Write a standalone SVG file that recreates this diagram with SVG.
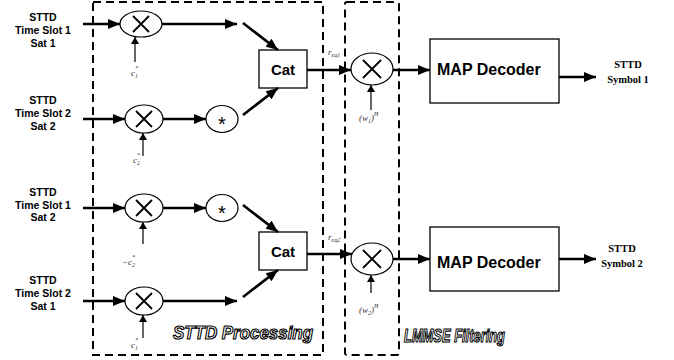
<svg xmlns="http://www.w3.org/2000/svg" width="674" height="360" viewBox="0 0 674 360">
<style>
.in{font-family:"Liberation Sans",Arial,sans-serif;font-weight:bold;font-size:10.5px;text-anchor:middle}
.out{font-family:"Liberation Serif","Times New Roman",serif;font-weight:bold;font-size:10.5px;text-anchor:middle}
.box{fill:#fff;stroke:#000;stroke-width:1.3}
.node{fill:#fff;stroke:#000;stroke-width:1.2}
.x{stroke:#000;stroke-width:1.8;fill:none}
.big{font-family:"Liberation Sans",Arial,sans-serif;font-weight:bold;font-size:15px}
.map{font-family:"Liberation Sans",Arial,sans-serif;font-weight:bold;font-size:16px}
.lbl{font-family:"Liberation Serif","Times New Roman",serif;font-style:italic;font-size:9px;fill:#333}
.sub{font-size:6px}
.star{font-family:"Liberation Sans",Arial,sans-serif;font-size:20px;text-anchor:middle;fill:#000}
.w{stroke:#000;stroke-width:2.6;fill:none}
.t{stroke:#000;stroke-width:1.2;fill:none}
.dash{fill:none;stroke:#000;stroke-width:2;stroke-dasharray:8 5}
.title{font-family:"Liberation Sans",Arial,sans-serif;font-weight:bold;font-style:italic;fill:#fff;stroke:#000;stroke-width:1.2}
</style>
<defs>
<marker id="ah" markerUnits="userSpaceOnUse" markerWidth="12" markerHeight="10" refX="12" refY="5" orient="auto"><path d="M0,0 L12,5 L0,10 Z" fill="#000"/></marker>
<marker id="as" markerUnits="userSpaceOnUse" markerWidth="7" markerHeight="8" refX="7" refY="4" orient="auto"><path d="M0,0 L7,4 L0,8 Z" fill="#000"/></marker>
</defs>
<rect width="674" height="360" fill="#fff"/>

<g id="sttd-processing-box">
<rect class="dash" x="93" y="2" width="230" height="353"/>
<text class="title" x="173" y="339" font-size="19" textLength="140" lengthAdjust="spacingAndGlyphs">STTD Processing</text>
</g>
<g id="lmmse-box">
<rect class="dash" x="345" y="2" width="54" height="353" rx="2"/>
<text class="title" x="404" y="342" font-size="18" textLength="101" lengthAdjust="spacingAndGlyphs">LMMSE Filtering</text>
</g>

<g id="input1"><text class="in" x="43" y="21">STTD</text><text class="in" x="43" y="34">Time Slot 1</text><text class="in" x="43" y="47">Sat 1</text></g>
<g id="input2"><text class="in" x="43" y="104">STTD</text><text class="in" x="43" y="117">Time Slot 2</text><text class="in" x="43" y="130">Sat 2</text></g>
<g id="input3"><text class="in" x="43" y="196">STTD</text><text class="in" x="43" y="209">Time Slot 1</text><text class="in" x="43" y="221">Sat 2</text></g>
<g id="input4"><text class="in" x="43" y="284">STTD</text><text class="in" x="43" y="297">Time Slot 2</text><text class="in" x="43" y="310">Sat 1</text></g>

<g id="mult1"><ellipse class="node" cx="141" cy="24" rx="21" ry="13"/><path class="x" d="M133,16 L149,32 M149,16 L133,32"/></g>
<g id="mult2"><ellipse class="node" cx="144" cy="119" rx="19" ry="14"/><path class="x" d="M136,111 L152,127 M152,111 L136,127"/></g>
<g id="mult3"><ellipse class="node" cx="144" cy="208" rx="19" ry="14"/><path class="x" d="M136,200 L152,216 M152,200 L136,216"/></g>
<g id="mult4"><ellipse class="node" cx="144" cy="301" rx="19" ry="14"/><path class="x" d="M136,293 L152,309 M152,293 L136,309"/></g>

<g id="conj1"><ellipse class="node" cx="222" cy="119" rx="16" ry="13.5"/><text class="star" x="222" y="131">*</text></g>
<g id="conj2"><ellipse class="node" cx="222" cy="208" rx="16" ry="13.5"/><text class="star" x="222" y="220">*</text></g>

<g id="cat1"><rect class="box" x="259" y="50" width="48" height="38"/><text class="big" x="283" y="75" text-anchor="middle">Cat</text></g>
<g id="cat2"><rect class="box" x="259" y="232" width="48" height="38"/><text class="big" x="283" y="257" text-anchor="middle">Cat</text></g>

<g id="mult5"><ellipse class="node" cx="372" cy="69" rx="21" ry="16"/><path class="x" d="M363,60 L381,78 M381,60 L363,78"/></g>
<g id="mult6"><ellipse class="node" cx="372" cy="259" rx="21" ry="16"/><path class="x" d="M363,250 L381,268 M381,250 L363,268"/></g>

<g id="map1"><rect class="box" x="430" y="39" width="129" height="64"/><text class="map" x="437" y="75">MAP Decoder</text></g>
<g id="map2"><rect class="box" x="430" y="227" width="129" height="64"/><text class="map" x="437" y="268">MAP Decoder</text></g>

<g id="output1"><text class="out" x="628" y="68">STTD</text><text class="out" x="628" y="83">Symbol 1</text></g>
<g id="output2"><text class="out" x="622" y="252">STTD</text><text class="out" x="622" y="267">Symbol 2</text></g>

<g id="labels">
<text class="lbl" x="131" y="76">c<tspan class="sub" dy="2">1</tspan><tspan class="sub" dx="-3" dy="-8">*</tspan></text>
<text class="lbl" x="133" y="163">c<tspan class="sub" dy="2">2</tspan><tspan class="sub" dx="-3" dy="-8">*</tspan></text>
<text class="lbl" x="122" y="265">−c<tspan class="sub" dy="2">2</tspan><tspan class="sub" dx="-3" dy="-8">*</tspan></text>
<text class="lbl" x="131" y="348">c<tspan class="sub" dy="2">1</tspan><tspan class="sub" dx="-3" dy="-8">*</tspan></text>
<text class="lbl" x="328" y="55">r<tspan class="sub" dy="2">eq1</tspan></text>
<text class="lbl" x="328" y="240">r<tspan class="sub" dy="2">eq2</tspan></text>
<text class="lbl" x="359" y="121">(w<tspan class="sub" dy="2">1</tspan><tspan dy="-2">)</tspan><tspan class="sub" dy="-5">H</tspan></text>
<text class="lbl" x="359" y="313">(w<tspan class="sub" dy="2">2</tspan><tspan dy="-2">)</tspan><tspan class="sub" dy="-5">H</tspan></text>
</g>

<g id="connectors">
<line class="w" x1="83" y1="24" x2="120" y2="24" marker-end="url(#ah)"/>
<line class="w" x1="83" y1="119" x2="125" y2="119" marker-end="url(#ah)"/>
<line class="w" x1="83" y1="208" x2="125" y2="208" marker-end="url(#ah)"/>
<line class="w" x1="83" y1="301" x2="125" y2="301" marker-end="url(#ah)"/>
<line class="w" x1="162" y1="24" x2="237" y2="24" marker-end="url(#ah)"/>
<line class="w" x1="163" y1="119" x2="206" y2="119" marker-end="url(#ah)"/>
<line class="w" x1="163" y1="208" x2="206" y2="208" marker-end="url(#ah)"/>
<line class="w" x1="163" y1="301" x2="237" y2="301" marker-end="url(#ah)"/>
<line class="w" x1="243" y1="23" x2="278" y2="50" marker-end="url(#ah)"/>
<line class="w" x1="243" y1="115" x2="278" y2="88" marker-end="url(#ah)"/>
<line class="w" x1="243" y1="205" x2="278" y2="232" marker-end="url(#ah)"/>
<line class="w" x1="243" y1="297" x2="278" y2="270" marker-end="url(#ah)"/>
<line class="w" x1="307" y1="70" x2="351" y2="70" marker-end="url(#ah)"/>
<line class="w" x1="307" y1="254" x2="352" y2="254" marker-end="url(#ah)"/>
<line class="w" x1="393" y1="70" x2="430" y2="70" marker-end="url(#ah)"/>
<line class="w" x1="393" y1="259" x2="430" y2="259" marker-end="url(#ah)"/>
<line class="w" x1="559" y1="77" x2="596" y2="77" marker-end="url(#ah)"/>
<line class="w" x1="559" y1="259" x2="596" y2="259" marker-end="url(#ah)"/>
<line class="t" x1="135" y1="62" x2="135" y2="37" marker-end="url(#as)"/>
<line class="t" x1="143" y1="156" x2="143" y2="133" marker-end="url(#as)"/>
<line class="t" x1="143" y1="244" x2="143" y2="222" marker-end="url(#as)"/>
<line class="t" x1="143" y1="338" x2="143" y2="315" marker-end="url(#as)"/>
<line class="t" x1="371" y1="110" x2="371" y2="85" marker-end="url(#as)"/>
<line class="t" x1="371" y1="293" x2="371" y2="275" marker-end="url(#as)"/>
</g>
</svg>
